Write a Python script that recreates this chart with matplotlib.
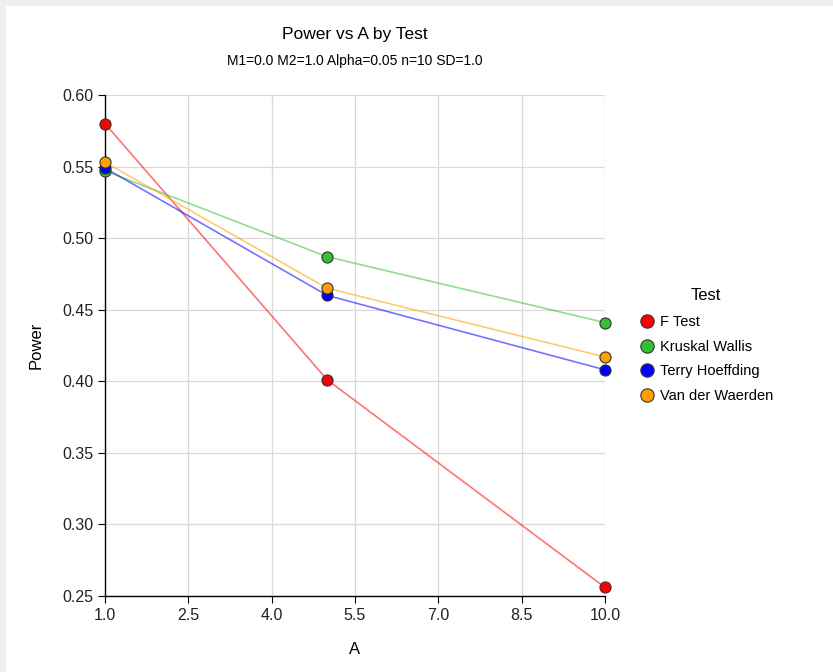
import matplotlib
matplotlib.use('Agg')
import matplotlib.pyplot as plt
from matplotlib.patches import Rectangle

plt.rcParams['font.family'] = ['Liberation Sans', 'DejaVu Sans']

# DATA
a_values = [1.0, 5.0, 10.0]
f_test = [0.580, 0.401, 0.256]
kruskal_wallis = [0.547, 0.487, 0.441]
terry_hoeffding = [0.549, 0.460, 0.408]
van_der_waerden = [0.553, 0.465, 0.417]

series_names = ['F Test', 'Kruskal Wallis', 'Terry Hoeffding', 'Van der Waerden']
series_values = [f_test, kruskal_wallis, terry_hoeffding, van_der_waerden]
series_colors = ['#ff0000', '#33c133', '#0000ff', '#ffa000']

x_ticks = [1.0, 2.5, 4.0, 5.5, 7.0, 8.5, 10.0]
y_ticks = [0.25, 0.30, 0.35, 0.40, 0.45, 0.50, 0.55, 0.60]

# FIGURE
fig = plt.figure(figsize=(8.33, 6.72), dpi=100, facecolor='#f0f0f0')
fig.patches.append(Rectangle((6 / 833, 0), 1, 1 - 6 / 672, transform=fig.transFigure,
                             facecolor='white', edgecolor='none', zorder=-1))

ax = fig.add_axes([105 / 833, 76 / 672, 500 / 833, 501 / 672])
ax.set_facecolor('white')

for name, vals, col in zip(series_names, series_values, series_colors):
    ax.plot(a_values, vals, color=col, alpha=0.55, lw=1.2, zorder=2)
    ax.plot(a_values, vals, ls='none', marker='o', ms=8, mfc=col, mec='#333333',
            mew=0.8, label=name, zorder=3, clip_on=False)

ax.set_xlim(1, 10)
ax.set_ylim(0.25, 0.60)
ax.set_xticks(x_ticks)
ax.set_xticklabels(['%.1f' % v for v in x_ticks])
ax.set_yticks(y_ticks)
ax.set_yticklabels(['%.2f' % v for v in y_ticks])
ax.grid(True, color='#d9d9d9', lw=0.9)
ax.set_axisbelow(True)
for s in ['top', 'right']:
    ax.spines[s].set_visible(False)
for s in ['left', 'bottom']:
    ax.spines[s].set_color('black')
    ax.spines[s].set_linewidth(1.0)
ax.tick_params(labelsize=11.5, length=5, color='black', labelcolor='#222222')

ax.set_xlabel('A', fontsize=12, labelpad=14)
ax.set_ylabel('Power', fontsize=12, labelpad=13)

fig.text(355 / 833, 1 - 34 / 672, 'Power vs A by Test', ha='center', va='center', fontsize=12.5)
fig.text(355 / 833, 1 - 61 / 672, 'M1=0.0 M2=1.0 Alpha=0.05 n=10 SD=1.0', ha='center',
         va='center', fontsize=10)

leg = ax.legend(title='Test', loc='center left', bbox_to_anchor=(1.04, 0.50), frameon=False,
                fontsize=10.5, title_fontsize=12, handletextpad=0.3, labelspacing=0.72,
                handlelength=1.2, markerscale=1.2)
leg._legend_box.sep = 9

fig.savefig('out.png', dpi=100, facecolor=fig.get_facecolor())
